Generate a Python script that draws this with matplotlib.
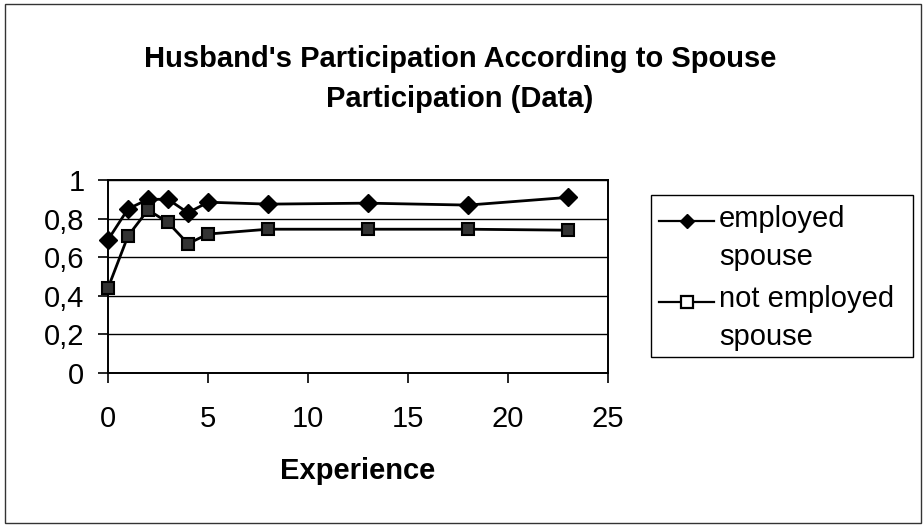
import matplotlib
matplotlib.use("Agg")
import matplotlib.pyplot as plt
from matplotlib.patches import Rectangle
from matplotlib.lines import Line2D
from matplotlib.ticker import FuncFormatter

plt.rcParams['font.family'] = ['Liberation Sans', 'DejaVu Sans']

experience = [0, 1, 2, 3, 4, 5, 8, 13, 18, 23]
employed_spouse = [0.69, 0.85, 0.90, 0.90, 0.83, 0.885, 0.875, 0.88, 0.87, 0.91]
not_employed_spouse = [0.44, 0.71, 0.845, 0.78, 0.67, 0.72, 0.745, 0.745, 0.745, 0.74]
series_labels = [["employed", "spouse"], ["not employed", "spouse"]]
title_lines = ["Husband's Participation According to Spouse", "Participation (Data)"]
xlabel_text = "Experience"
x_ticks = [0, 5, 10, 15, 20, 25]
y_ticks = [0, 0.2, 0.4, 0.6, 0.8, 1.0]

W, H = 924, 526
FS = 21
fig = plt.figure(figsize=(W / 100, H / 100), dpi=100)
fig.patch.set_facecolor('white')


def fx(px):
    return px / W


def fy(py):
    return 1 - py / H


# outer chart frame
fig.patches.append(Rectangle((fx(5), fy(523)), 916 / W, 519 / H, transform=fig.transFigure,
                             fill=False, edgecolor='#333333', linewidth=1.0))

L, R, T, B = 108, 608, 180, 373
ax = fig.add_axes([fx(L), fy(B), (R - L) / W, (B - T) / H])
ax.set_xlim(0, 25)
ax.set_ylim(0, 1)
ax.set_xticks(x_ticks)
ax.set_yticks(y_ticks)
ax.yaxis.set_major_formatter(FuncFormatter(lambda v, p: ("%g" % round(v, 1)).replace('.', ',')))
ax.tick_params(axis='both', direction='out', length=7, width=1.2, labelsize=FS, color='black')
ax.tick_params(axis='y', pad=10)
ax.tick_params(axis='x', pad=16)
ax.grid(axis='y', color='black', linewidth=1.0)
ax.set_axisbelow(True)
for s in ax.spines.values():
    s.set_linewidth(1.4)
    s.set_color('black')

ax.plot(experience, employed_spouse, color='black', linewidth=2.0,
        marker='D', markersize=9.5, markerfacecolor='black', markeredgecolor='black',
        clip_on=False, zorder=4)
ax.plot(experience, not_employed_spouse, color='black', linewidth=2.0,
        marker='s', markersize=8.5, markerfacecolor='#333333', markeredgecolor='black',
        markeredgewidth=1.5, clip_on=False, zorder=4)

ax.set_xlabel(xlabel_text, fontsize=FS, fontweight='bold', labelpad=17)

fig.text(fx(460), fy(67), title_lines[0], ha='center', va='baseline', fontsize=FS, fontweight='bold')
fig.text(fx(460), fy(107), title_lines[1], ha='center', va='baseline', fontsize=FS, fontweight='bold')

# legend (drawn by hand so that the key sits on the first text line)
fig.patches.append(Rectangle((fx(651), fy(357)), (913 - 651) / W, (357 - 195) / H,
                             transform=fig.transFigure, fill=False, edgecolor='black', linewidth=1.0))
fig.add_artist(Line2D([fx(659), fx(714)], [fy(221), fy(221)], transform=fig.transFigure,
                      color='black', linewidth=1.6, zorder=5))
fig.add_artist(Line2D([fx(687)], [fy(221)], transform=fig.transFigure, linestyle='none',
                      marker='D', markersize=7, color='black', zorder=6))
fig.add_artist(Line2D([fx(659), fx(714)], [fy(302), fy(302)], transform=fig.transFigure,
                      color='black', linewidth=1.6, zorder=5))
fig.add_artist(Line2D([fx(687)], [fy(302)], transform=fig.transFigure, linestyle='none',
                      marker='s', markersize=8, markerfacecolor='white', markeredgecolor='black',
                      markeredgewidth=1.6, zorder=6))
baselines = [[227, 265], [307, 345]]
for lab, bl in zip(series_labels, baselines):
    for t, b in zip(lab, bl):
        fig.text(fx(719), fy(b), t, ha='left', va='baseline', fontsize=FS)

fig.savefig("out.png", dpi=100, facecolor='white')
